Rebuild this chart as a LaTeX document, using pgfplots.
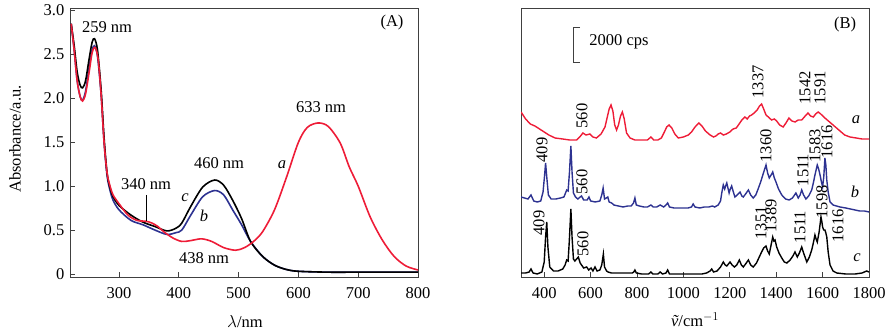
\documentclass[border=0pt]{standalone}
\usepackage{pgfplots}
\pgfplotsset{compat=1.18}
\usepackage{fontspec}
\setmainfont{Liberation Serif}
\definecolor{cRed}{RGB}{238,28,55}
\definecolor{cBlue}{RGB}{45,50,145}
\begin{document}
\fontsize{16.5}{19}\selectfont
\begin{tikzpicture}
\useasboundingbox (-70pt,-54pt) rectangle (822pt,277pt);
\pgfplotsset{
  every axis/.append style={
    scale only axis, width=348pt, height=269pt,
    axis line style={line width=0.9pt, black!75},
    tick align=inside, xtick pos=bottom, ytick pos=left,
    major tick length=5pt,
    tick style={line width=0.8pt, black!75},
    /pgf/number format/assume math mode=true,
    /pgf/number format/1000 sep={},
    tick label style={font=\fontsize{16.5}{19}\selectfont},
  }
}
% Panel A
\begin{axis}[at={(0pt,0pt)}, xmin=218, xmax=800, ymin=-0.035, ymax=3.03,
  xtick={300,400,500,600,700,800},
  ytick={0,0.5,1,1.5,2,2.5,3},
  yticklabels={0,0.5,1.0,1.5,2.0,2.5,3.0},
  xticklabel style={yshift=-5pt}]
\addplot[cBlue, line width=1.6pt, smooth, tension=0.5] coordinates {
(220,2.85) (225,2.55) (230,2.2) (235,2.02) (239,1.98) (244,2.08) (250,2.35) (255,2.55) (259,2.6) (264,2.48) (270,2.05) (275,1.5) (280,1.12) (285,0.95) (290,0.84) (300,0.73) (320,0.61) (340,0.56) (360,0.50) (380,0.45) (395,0.47) (405,0.50) (420,0.67) (440,0.88) (460,0.95) (475,0.90) (490,0.73) (505,0.56) (520,0.37) (540,0.20) (560,0.10) (580,0.05) (600,0.03) (650,0.02) (700,0.02) (800,0.02)};
\addplot[black, line width=1.6pt, smooth, tension=0.5] coordinates {
(220,2.85) (225,2.6) (230,2.3) (235,2.15) (239,2.12) (244,2.2) (250,2.45) (255,2.64) (259,2.68) (264,2.55) (270,2.1) (275,1.55) (280,1.15) (285,0.98) (290,0.88) (300,0.78) (320,0.67) (340,0.59) (360,0.54) (380,0.49) (395,0.52) (405,0.58) (420,0.77) (440,0.99) (460,1.07) (475,1.01) (490,0.84) (505,0.63) (520,0.37) (540,0.20) (560,0.10) (580,0.05) (600,0.03) (650,0.02) (700,0.02) (800,0.02)};
\addplot[cRed, line width=1.6pt, smooth, tension=0.5] coordinates {
(220,2.85) (225,2.55) (230,2.2) (235,2.02) (239,1.97) (244,2.05) (250,2.3) (255,2.52) (260,2.58) (265,2.45) (270,2.05) (275,1.5) (280,1.15) (285,1.0) (290,0.9) (300,0.8) (315,0.67) (330,0.61) (345,0.6) (355,0.58) (365,0.54) (375,0.48) (390,0.41) (405,0.37) (420,0.38) (438,0.40) (455,0.37) (475,0.30) (495,0.27) (510,0.30) (525,0.37) (540,0.48) (560,0.73) (580,1.1) (600,1.50) (615,1.67) (633,1.72) (650,1.68) (670,1.49) (685,1.22) (700,1.0) (720,0.65) (740,0.39) (760,0.20) (780,0.09) (800,0.045)};
\end{axis}
% Panel B
\begin{axis}[at={(451pt,0pt)}, xmin=300, xmax=1800, ymin=0, ymax=269,
  xtick={400,600,...,1800}, ytick=\empty,
  xticklabel style={yshift=-5pt}]
\addplot[cRed, line width=1.4pt] coordinates {
(300,165) (320,158) (340,153) (360,151) (380,148) (400,145) (420,142) (447,139) (480,138) (510,137) (540,137) (553,140) (567,144) (580,142) (597,143) (610,140) (625,139) (645,143) (662,150) (672,160) (680,168) (688,172) (696,166) (704,152) (712,147) (720,152) (729,161) (737,165) (745,158) (755,144) (770,139) (791,137) (820,137) (845,137) (860,140) (872,137) (890,137) (905,139) (918,145) (928,150) (938,152) (950,149) (963,143) (978,139) (1000,140) (1021,142) (1035,145) (1050,150) (1067,154) (1080,151) (1095,146) (1115,142) (1130,140) (1140,141) (1150,143) (1160,144) (1172,142) (1185,143) (1200,145) (1214,148) (1228,149) (1240,153) (1252,157) (1265,160) (1275,158) (1285,161) (1294,162) (1305,164) (1318,167) (1328,171) (1337,173) (1346,168) (1356,162) (1366,160) (1380,157) (1392,158) (1402,156) (1415,152) (1430,150) (1442,154) (1455,159) (1468,156) (1481,155) (1495,157) (1510,157) (1525,161) (1537,164) (1548,161) (1560,160) (1570,163) (1581,165) (1592,163) (1605,160) (1620,157) (1645,152) (1670,147) (1695,142) (1718,140) (1745,139) (1770,138) (1800,138)};
\addplot[cBlue, line width=1.4pt] coordinates {
(300,80) (315,79) (330,78) (343,82) (355,76) (370,75) (385,76) (395,85) (401,100) (406,114) (411,100) (418,82) (430,78) (450,78) (470,79) (485,80) (497,87) (503,86) (509,105) (515,131) (520,105) (526,84) (535,80) (545,78) (555,80) (561,81) (570,77) (585,77) (593,80) (600,76) (620,75) (640,76) (648,82) (654,89) (660,78) (668,79) (674,80) (680,75) (691,74) (700,72) (720,71) (740,70) (760,71) (775,71) (785,74) (791,79) (797,72) (810,71) (830,70) (845,70) (860,72) (870,70) (885,70) (900,72) (915,70) (925,72) (932,74) (940,70) (960,69) (980,69) (1000,69) (1020,69) (1035,70) (1042,73) (1050,70) (1070,69) (1090,70) (1110,70) (1125,71) (1135,70) (1150,72) (1160,76) (1166,85) (1172,92) (1178,88) (1182,91) (1187,94) (1192,89) (1197,84) (1202,88) (1208,91) (1214,86) (1222,80) (1232,82) (1244,85) (1252,81) (1258,80) (1268,83) (1280,87) (1290,82) (1301,79) (1312,82) (1322,88) (1333,95) (1345,104) (1356,112) (1363,104) (1370,99) (1378,102) (1385,105) (1392,99) (1399,95) (1410,88) (1424,82) (1440,78) (1456,77) (1470,79) (1485,84) (1495,79) (1503,82) (1510,87) (1518,82) (1528,78) (1540,81) (1553,87) (1561,95) (1567,102) (1572,107) (1577,112) (1583,108) (1589,102) (1595,95) (1600,90) (1605,100) (1610,119) (1614,112) (1618,97) (1624,85) (1632,75) (1645,72) (1660,71) (1675,70) (1700,69) (1720,68) (1740,67) (1760,66) (1780,66) (1800,65)};
\addplot[black, line width=1.4pt] coordinates {
(300,4) (320,4) (335,5) (343,8) (352,4) (370,3) (390,5) (400,15) (406,40) (411,55) (416,30) (424,10) (440,6) (460,6) (480,8) (490,12) (497,17) (503,16) (508,35) (515,68) (520,40) (526,18) (532,16) (540,18) (547,20) (555,14) (561,12) (570,9) (583,10) (592,7) (602,9) (610,6) (619,10) (628,6) (640,7) (648,12) (655,23) (660,10) (669,6) (675,5) (690,4) (720,4) (760,4) (780,4) (786,5) (791,7) (797,4) (820,3) (850,3) (860,5) (868,3) (890,3) (900,5) (910,3) (925,4) (932,7) (940,3) (970,3) (1000,3) (1040,3) (1080,3) (1100,4) (1115,6) (1122,8) (1130,5) (1145,6) (1160,10) (1172,15) (1180,12) (1187,11) (1194,13) (1201,15) (1210,12) (1220,10) (1230,12) (1241,17) (1250,12) (1258,10) (1268,13) (1280,17) (1290,12) (1301,10) (1315,14) (1327,20) (1337,25) (1346,29) (1356,31) (1363,26) (1370,23) (1378,32) (1385,40) (1390,36) (1395,37) (1402,30) (1412,24) (1424,19) (1435,15) (1446,14) (1460,17) (1472,21) (1481,25) (1491,20) (1500,24) (1510,30) (1518,24) (1532,15) (1543,20) (1553,27) (1560,34) (1567,42) (1572,38) (1577,35) (1585,45) (1593,60) (1597,55) (1600,50) (1605,47) (1610,47) (1614,44) (1618,40) (1624,25) (1632,12) (1645,6) (1661,4) (1700,3) (1740,3) (1770,4) (1790,6) (1800,5)};
\end{axis}
\begin{scope}[x=1pt,y=1pt, every node/.style={inner sep=0pt, font=\fontsize{16.5}{19}\selectfont}]
% Panel A annotations
\node at (37,250) {259 nm};
\node at (322,254) {(A)};
\node at (251,170) {633 nm};
\node at (212,112) {\itshape a};
\node at (149,114) {460 nm};
\node at (76,93) {340 nm};
\node at (115,79) {\itshape c};
\node at (134,61) {\itshape b};
\node at (134,19) {438 nm};
\draw[line width=0.8pt] (76,82) -- (76,56);
\node[rotate=90] at (-55,138) {Absorbance/a.u.};
\node at (175,-45) {$\lambda$/nm};
% Panel B annotations
\node at (775,252) {(B)};
\draw[line width=0.8pt, black!75] (510,250) -- (503,250) -- (503,215) -- (510,215);
\node at (549,235) {2000 cps};
\node[rotate=90] at (688,195) {1337};
\node[rotate=90] at (735,189) {1542};
\node[rotate=90] at (750,189) {1591};
\node[rotate=90] at (512,161) {560};
\node at (786,157) {\itshape a};
\node[rotate=90] at (472,127) {409};
\node[rotate=90] at (512,95) {560};
\node[rotate=90] at (696,131) {1360};
\node[rotate=90] at (733,107) {1511};
\node[rotate=90] at (745,131) {1583};
\node[rotate=90] at (757,135) {1616};
\node at (785,85) {\itshape b};
\node[rotate=90] at (469,54) {409};
\node[rotate=90] at (513,33) {560};
\node[rotate=90] at (691,54) {1351};
\node[rotate=90] at (701,61) {1389};
\node[rotate=90] at (730,50) {1511};
\node[rotate=90] at (752,75) {1598};
\node[rotate=90] at (768,51) {1616};
\node at (787,19) {\itshape c};
\node at (625,-43) {\itshape\~{v}\upshape/cm$^{-1}$};
\end{scope}
\end{tikzpicture}
\end{document}
